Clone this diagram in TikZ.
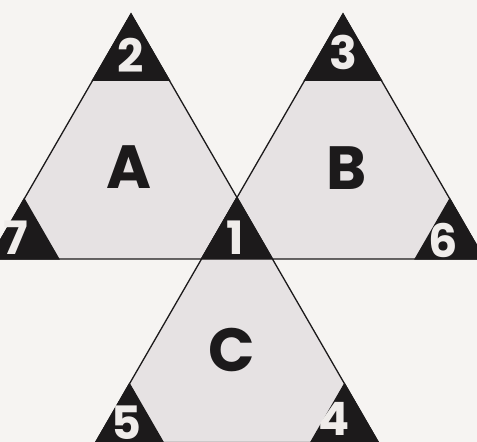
\documentclass[tikz,border=0pt]{standalone}
\usepackage{fontspec}
\setmainfont{Poppins}
\usetikzlibrary{calc}
\definecolor{bgc}{HTML}{F6F4F2}
\definecolor{facec}{HTML}{E6E2E3}
\definecolor{inkc}{HTML}{1C1A1B}
\definecolor{digc}{HTML}{EFECEA}
\tikzset{
  face/.style={fill=facec, draw=inkc, line width=1.3pt, line join=miter},
  corner/.style={fill=inkc, draw=inkc, line width=1.3pt},
  letter/.style={inner sep=0pt, text=inkc, font=\bfseries\fontsize{61}{61}\selectfont},
  digit/.style={inner sep=0pt, text=digc, font=\bfseries\fontsize{46}{46}\selectfont}
}
\begin{document}
\begin{tikzpicture}[x=1pt,y=-1pt]
\useasboundingbox (0,0) rectangle (477,442);
\fill[bgc] (0,0) rectangle (477,442);
\clip (0,0) rectangle (477,442);
% triangle vertices
\coordinate (At) at (131,14);
\coordinate (Al) at (-10.5,259);
\coordinate (Ar) at (272.5,259);
\coordinate (Bt) at (343,14);
\coordinate (Bl) at (201.5,259);
\coordinate (Br) at (484.5,259);
\coordinate (Ct) at (237,197.6);
\coordinate (Cl) at (95.5,442.6);
\coordinate (Cr) at (378.5,442.6);
% faces
\path[face] (At) -- (Al) -- (Ar) -- cycle;
\path[face] (Bt) -- (Bl) -- (Br) -- cycle;
\path[face] (Ct) -- (Cl) -- (Cr) -- cycle;
% corners
\path[corner] (At) -- ($(At)!0.27!(Al)$) -- ($(At)!0.27!(Ar)$) -- cycle;
\path[corner] (Bt) -- ($(Bt)!0.27!(Bl)$) -- ($(Bt)!0.27!(Br)$) -- cycle;
\path[corner] (Al) -- ($(Al)!0.245!(At)$) -- ($(Al)!0.245!(Ar)$) -- cycle;
\path[corner] (Br) -- ($(Br)!0.245!(Bt)$) -- ($(Br)!0.245!(Bl)$) -- cycle;
\path[corner] (Ct) -- (Bl) -- (Ar) -- cycle;
\path[corner] (Cl) -- ($(Cl)!0.24!(Ct)$) -- ($(Cl)!0.24!(Cr)$) -- cycle;
\path[corner] (Cr) -- ($(Cr)!0.24!(Ct)$) -- ($(Cr)!0.24!(Cl)$) -- cycle;
% letters
\node[letter] (la) at (129,167) {A};
\node[letter] (lb) at (347,168) {B};
\node[letter] (lc) at (232,350) {C};
% digits
\node[digit] (d2) at (131,55) {2};
\node[digit] (d3) at (343,52) {3};
\node[digit] (d1) at (235,238) {1};
\node[digit] (d7) at (16,238) {7};
\node[digit] (d6) at (443,240) {6};
\node[digit] (d5) at (126,423) {5};
\node[digit] (d4) at (334,419) {4};
\end{tikzpicture}
\end{document}
